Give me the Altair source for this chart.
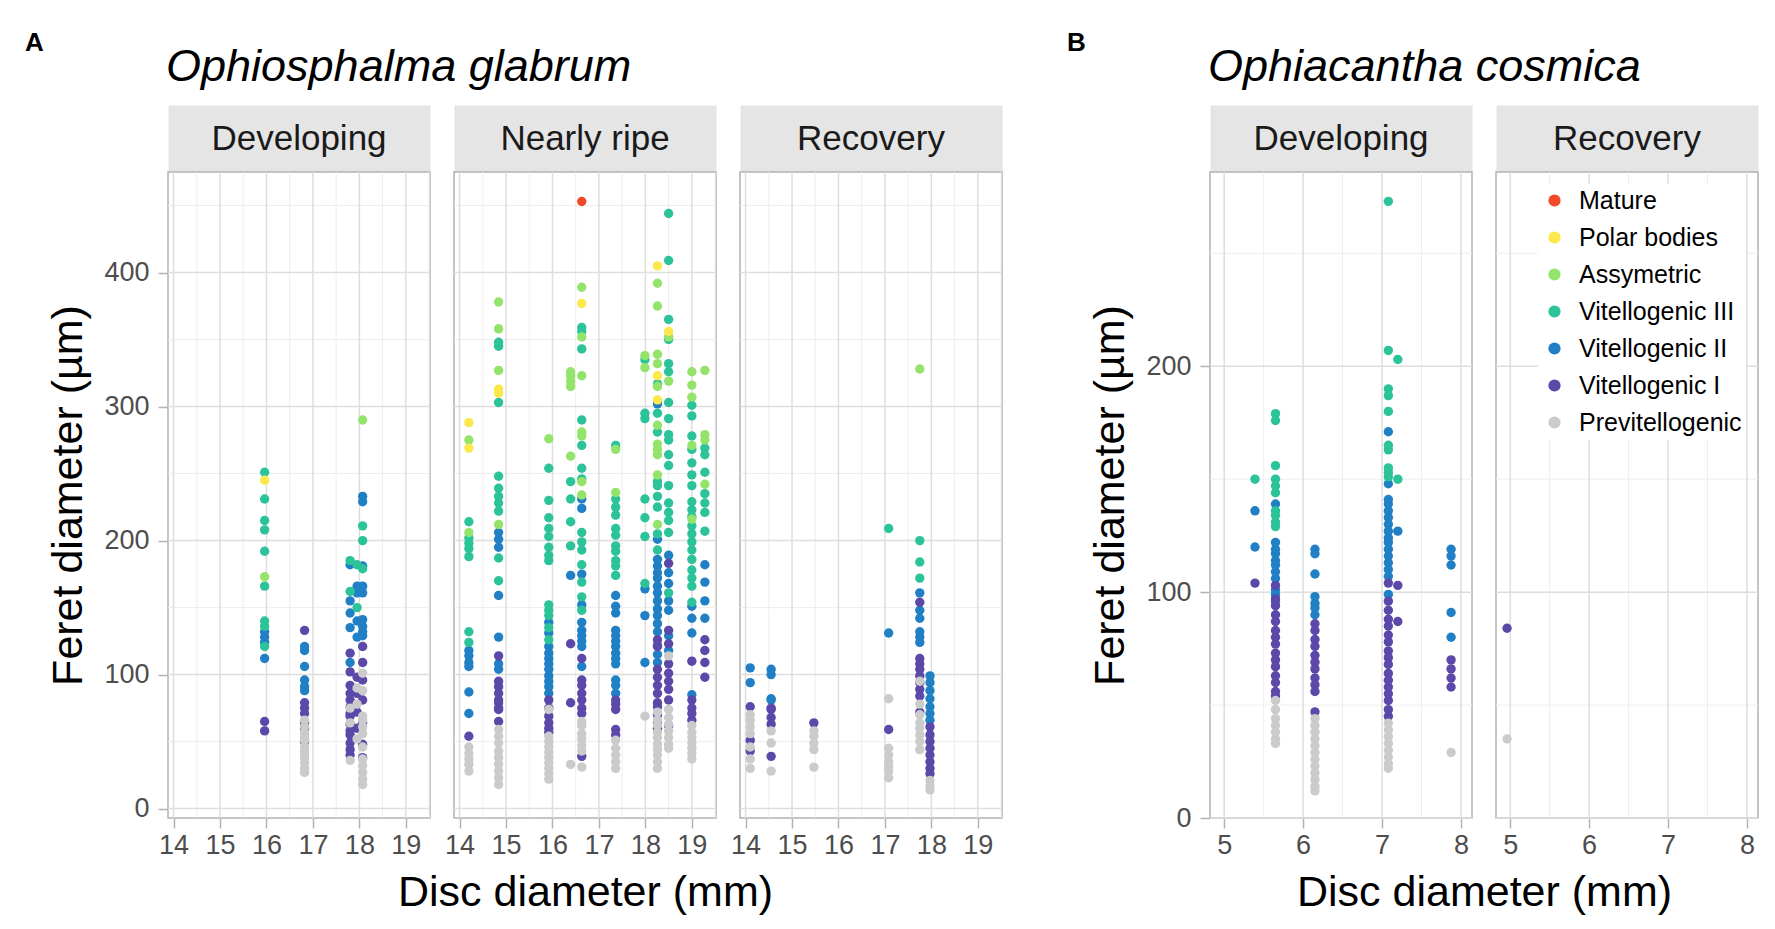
import altair as alt
import pandas as pd

FONT = "Liberation Sans"
TICK_FONT = "Liberation Sans"

STAGES = ["Mature", "Polar bodies", "Assymetric", "Vitellogenic III",
          "Vitellogenic II", "Vitellogenic I", "Previtellogenic"]
COLORS = ["#F04A2A", "#FCE84A", "#94E36B", "#2CC39A", "#2180C5", "#5C48A8", "#CBCBCB"]
ABBR = {"M": "Mature", "P": "Polar bodies", "A": "Assymetric", "V3": "Vitellogenic III",
        "V2": "Vitellogenic II", "V1": "Vitellogenic I", "PV": "Previtellogenic"}
DRAW_ORDER = ["Vitellogenic II", "Vitellogenic III", "Vitellogenic I", "Assymetric",
              "Polar bodies", "Mature", "Previtellogenic"]

# ---------------- Ophiosphalma glabrum ----------------
og_developing = [
    (15.96, "V3", [251, 231, 215, 208, 192, 166, 140, 136, 121]),
    (15.96, "P", [245]),
    (15.96, "A", [173]),
    (15.96, "V2", [132, 128, 124, 112]),
    (15.96, "V1", [65, 58]),
    (16.82, "V1", [133, 79, 75, 71, 64, 60, 50]),
    (16.82, "V2", [121, 118, 106, 96, 91, 88]),
    (16.82, "PV", [66, 61, 56, 53, 51, 46, 43, 41, 38, 34, 30, 27]),
    (17.80, "V3", [185, 162]),
    (17.80, "V2", [182, 155, 146, 135, 109]),
    (17.80, "V1", [116, 102, 92, 86, 81, 76, 71, 69, 63, 58, 55, 49, 44, 40]),
    (17.80, "PV", [75, 64, 36]),
    (17.95, "V2", [166, 161, 140, 128]),
    (17.95, "V3", [182, 150]),
    (17.95, "V1", [98, 86, 72, 60]),
    (17.95, "PV", [90, 78, 52]),
    (18.07, "A", [290]),
    (18.07, "V2", [233, 229, 181, 166, 161, 141, 136, 132, 129]),
    (18.07, "V3", [211, 200, 179]),
    (18.07, "V1", [121, 109, 96, 81, 64, 48, 38]),
    (18.07, "PV", [101, 88, 69, 66, 61, 56, 46, 37, 32, 27, 22, 18]),
]

og_nearly_ripe = [
    (14.20, "P", [288, 269]),
    (14.20, "A", [275, 206]),
    (14.20, "V3", [214, 202, 198, 194, 188, 132, 124]),
    (14.20, "V2", [118, 114, 109, 106, 87, 71]),
    (14.20, "V1", [54]),
    (14.20, "PV", [46, 41, 37, 33, 28]),
    (14.84, "A", [378, 358, 327, 212]),
    (14.84, "V3", [348, 345, 303, 248, 239, 233, 228, 222, 187, 170]),
    (14.84, "P", [313, 310]),
    (14.84, "V2", [206, 201, 195, 159, 128, 108, 104]),
    (14.84, "V1", [114, 95, 91, 86, 81, 79, 75, 74, 65]),
    (14.84, "PV", [59, 54, 49, 43, 38, 33, 28, 23, 18]),
    (15.92, "A", [276]),
    (15.92, "V3", [254, 230, 217, 209, 203, 195, 189, 185, 152, 148, 144, 135, 126]),
    (15.92, "V2", [139, 131, 121, 116, 112, 108, 104, 99, 95, 91, 86]),
    (15.92, "V1", [81, 75, 69, 64, 60, 57]),
    (15.92, "PV", [74, 54, 50, 46, 42, 38, 34, 30, 26, 22]),
    (16.39, "A", [326, 323, 319, 315, 263]),
    (16.39, "V3", [244, 231, 214, 196]),
    (16.39, "V2", [174]),
    (16.39, "V1", [123, 79]),
    (16.39, "PV", [33]),
    (16.63, "M", [453]),
    (16.63, "A", [389, 352, 323, 281, 278, 244, 234]),
    (16.63, "P", [377]),
    (16.63, "V3", [359, 356, 343, 290, 271, 254, 246, 206, 199, 193, 182, 169, 158, 148]),
    (16.63, "V2", [231, 224, 175, 152, 139, 133, 129, 125, 121, 106]),
    (16.63, "V1", [112, 96, 92, 86, 81, 75, 71, 39]),
    (16.63, "PV", [65, 62, 56, 52, 47, 43, 31]),
    (17.36, "V3", [271, 231, 225, 219, 209, 204, 196, 192, 185, 181, 174]),
    (17.36, "A", [268, 236]),
    (17.36, "V2", [159, 151, 146, 133, 129, 125, 121, 116, 112, 108, 96, 92, 86]),
    (17.36, "V1", [81, 78, 74, 59, 55]),
    (17.36, "PV", [51, 45, 40, 35, 30]),
    (17.99, "A", [338, 329]),
    (17.99, "V3", [335, 295, 291, 231, 217, 203, 168]),
    (17.99, "V2", [164, 144, 109]),
    (17.99, "PV", [69]),
    (18.26, "P", [405, 323, 305]),
    (18.26, "A", [392, 375, 339, 332, 315, 286, 272, 268, 264, 249, 212]),
    (18.26, "V3", [317, 295, 281, 244, 241, 233, 225, 205, 193]),
    (18.26, "V2", [302, 201, 186, 181, 176, 172, 166, 161, 155, 149, 144, 138, 132, 122, 115, 109]),
    (18.26, "V1", [126, 121, 104, 98, 92, 86, 79, 76, 70, 64, 60]),
    (18.26, "PV", [72, 66, 62, 57, 53, 48, 44, 40, 35, 30]),
    (18.50, "V3", [444, 409, 365, 350, 332, 326, 303, 291, 279, 275, 264, 256, 241, 228, 221, 215, 206, 161]),
    (18.50, "P", [356]),
    (18.50, "A", [352, 319]),
    (18.50, "V2", [189, 176, 168, 155, 148, 129, 118]),
    (18.50, "V1", [183, 133, 123, 108, 101, 95, 89, 81, 62]),
    (18.50, "PV", [114, 74, 68, 63, 58, 53, 48, 45]),
    (19.00, "A", [326, 316, 307, 271, 216]),
    (19.00, "V3", [301, 293, 278, 268, 258, 249, 241, 229, 223, 218, 211, 205, 199, 193, 186, 178, 172, 166, 154]),
    (19.00, "V2", [151, 142, 131, 85]),
    (19.00, "V1", [110, 81, 75, 71, 66]),
    (19.00, "PV", [62, 57, 53, 49, 45, 41, 37]),
    (19.28, "A", [327, 279, 275, 242]),
    (19.28, "V3", [269, 264, 251, 235, 228, 221, 207]),
    (19.28, "V2", [182, 169, 155, 142]),
    (19.28, "V1", [126, 118, 109, 98]),
]

og_recovery = [
    (14.10, "V2", [105, 94]),
    (14.10, "V1", [76, 51, 43]),
    (14.10, "PV", [70, 66, 61, 56, 46, 37, 30]),
    (14.55, "V2", [104, 100, 82, 81]),
    (14.55, "V1", [75, 74, 68, 63, 39]),
    (14.55, "PV", [58, 49, 28]),
    (15.47, "V1", [64]),
    (15.47, "PV", [58, 54, 49, 44, 31]),
    (17.08, "V3", [209]),
    (17.08, "V2", [131]),
    (17.08, "V1", [59]),
    (17.08, "PV", [82, 45, 40, 35, 31, 28, 23]),
    (17.75, "A", [328]),
    (17.75, "V3", [200, 184, 172]),
    (17.75, "V2", [161, 148, 142, 132, 128, 124]),
    (17.75, "V1", [154, 112, 108, 104, 99, 94, 89, 84, 72]),
    (17.75, "PV", [95, 78, 70, 64, 60, 55, 50, 44]),
    (17.97, "V2", [99, 94, 88, 82, 76, 71, 66]),
    (17.97, "V1", [61, 55, 50, 45, 40, 35, 30, 26]),
    (17.97, "PV", [21, 17, 14]),
]

# ---------------- Ophiacantha cosmica ----------------
oc_developing = [
    (5.39, "V3", [150]),
    (5.39, "V2", [136, 120]),
    (5.39, "V1", [104]),
    (5.65, "V3", [179, 176, 156, 150, 147, 144, 136, 134, 131, 129]),
    (5.65, "V2", [139, 122, 119, 117, 114, 112, 109, 106, 101, 99, 96]),
    (5.65, "V1", [103, 97, 94, 90, 87, 83, 80, 77, 73, 70, 67, 63, 60, 56, 54]),
    (5.65, "PV", [52, 48, 44, 41, 38, 35, 33]),
    (6.15, "V2", [119, 117, 108, 98, 95, 93, 90]),
    (6.15, "V1", [86, 83, 79, 76, 72, 69, 66, 62, 59, 56, 47]),
    (6.15, "PV", [44, 41, 38, 35, 32, 29, 26, 23, 20, 17, 14, 12]),
    (7.08, "V3", [273, 207, 190, 187, 180, 165, 163, 155, 153, 151]),
    (7.08, "V2", [171, 148, 141, 139, 136, 133, 130, 127, 124, 122, 119, 116, 113, 110, 107, 99]),
    (7.08, "V1", [104, 96, 92, 88, 85, 81, 78, 74, 71, 68, 64, 61, 58, 55, 52, 48, 45]),
    (7.08, "PV", [42, 39, 36, 33, 30, 27, 24, 22]),
    (7.20, "V3", [203, 150]),
    (7.20, "V2", [127]),
    (7.20, "V1", [103, 87]),
    (7.875, "V2", [119, 116, 112, 91, 80]),
    (7.875, "V1", [70, 66, 62, 58]),
    (7.875, "PV", [29]),
]

oc_recovery = [
    (4.96, "V1", [84]),
    (4.96, "PV", [35]),
]

# axis breaks
A_X_MAJOR = [14, 15, 16, 17, 18, 19]
A_X_MINOR = [14.5, 15.5, 16.5, 17.5, 18.5, 19.5]
A_Y_MAJOR = [0, 100, 200, 300, 400]
A_Y_MINOR = [50, 150, 250, 350, 450]
A_X_DOMAIN = [13.88, 19.52]
A_Y_DOMAIN = [-7, 475]

B_X_MAJOR = [5, 6, 7, 8]
B_X_MINOR = [5.5, 6.5, 7.5]
B_Y_MAJOR = [0, 100, 200]
B_Y_MINOR = [50, 150, 250]
B_X_DOMAIN = [4.82, 8.14]
B_Y_DOMAIN = [0, 286]

W, H, SH = 262, 646, 67
GAP = 24
GROUP_GAP = 208


def to_df(groups):
    rows = []
    for x, code, ys in groups:
        for y in ys:
            rows.append({"disc": x, "feret": y, "stage": ABBR[code]})
    df = pd.DataFrame(rows)
    df["rank"] = df["stage"].map({s: i for i, s in enumerate(DRAW_ORDER)})
    return df.sort_values("rank", kind="stable").reset_index(drop=True)


def strip(label, extra=None):
    t = alt.Chart(pd.DataFrame({"t": [label]})).mark_text(
        font=FONT, fontSize=35, color="#1a1a1a", align="center", baseline="middle"
    ).encode(x=alt.value(W / 2), y=alt.value(SH / 2), text="t:N")
    layers = [t]
    if extra is not None:
        letter, title = extra
        layers.append(alt.Chart(pd.DataFrame({"t": [letter]})).mark_text(
            font=FONT, fontSize=26, fontWeight="bold", color="black", align="left",
            baseline="alphabetic").encode(x=alt.value(-143), y=alt.value(-54), text="t:N"))
        layers.append(alt.Chart(pd.DataFrame({"t": [title]})).mark_text(
            font=FONT, fontSize=45, fontStyle="italic", color="black", align="left",
            baseline="alphabetic").encode(x=alt.value(-2), y=alt.value(-24), text="t:N"))
    return alt.layer(*layers).properties(
        width=W, height=SH, view=alt.ViewBackground(fill="#e5e5e5", strokeOpacity=0))


def spacer(h):
    return alt.Chart(pd.DataFrame({"t": [""]})).mark_text().encode(
        x=alt.value(0), y=alt.value(0), text="t:N").properties(
        width=GROUP_GAP - 2 * GAP, height=h, view=alt.ViewBackground(strokeOpacity=0))


def panel(groups, xdom, xmaj, xmin, ydom, ymaj, ymin, show_y, xtitle, xtitle_x=None, legend=False):
    df = to_df(groups)
    xs = alt.Scale(domain=xdom, nice=False, zero=False)
    ys = alt.Scale(domain=ydom, nice=False, zero=False)

    xaxis_kw = dict(values=xmaj, title=xtitle, labelPadding=4, titlePadding=13,
                    labelFlush=False, labelOverlap=False)
    if xtitle_x is not None:
        xaxis_kw["titleX"] = xtitle_x
    xaxis = alt.Axis(**xaxis_kw)
    if show_y:
        yaxis = alt.Axis(values=ymaj, title="Feret diameter (µm)", labelPadding=9,
                         titlePadding=13, labelFlush=False, labelOverlap=False)
    else:
        yaxis = None

    def vrules(vals, color, w):
        return alt.Chart(pd.DataFrame({"disc": vals})).mark_rule(color=color, strokeWidth=w).encode(
            x=alt.X("disc:Q", scale=xs, axis=xaxis))

    def hrules(vals, color, w):
        return alt.Chart(pd.DataFrame({"feret": vals})).mark_rule(color=color, strokeWidth=w).encode(
            y=alt.Y("feret:Q", scale=ys, axis=yaxis))

    if legend:
        leg = alt.Legend(orient="top-right", title=None, symbolType="circle", symbolSize=150,
                         symbolStrokeWidth=0, symbolOpacity=1, labelFont=FONT, labelFontSize=25,
                         labelColor="black", labelLimit=400, rowPadding=11, labelOffset=12,
                         fillColor="white", padding=4, offset=12)
    else:
        leg = None
    color = alt.Color("stage:N", scale=alt.Scale(domain=STAGES, range=COLORS), legend=leg)

    pts = alt.Chart(df).mark_circle(size=88, opacity=1, clip=True).encode(
        x=alt.X("disc:Q", scale=xs, axis=xaxis),
        y=alt.Y("feret:Q", scale=ys, axis=yaxis),
        color=color)

    return alt.layer(
        vrules(xmin, "#eeeeee", 1), hrules(ymin, "#eeeeee", 1),
        vrules(xmaj, "#dedede", 1.5), hrules(ymaj, "#dedede", 1.5),
        pts,
    ).properties(width=W, height=H,
                 view=alt.ViewBackground(fill="white", stroke="#b3b3b3", strokeWidth=1.5))


cells = [
    strip("Developing", ("A", "Ophiosphalma glabrum")),
    strip("Nearly ripe"),
    strip("Recovery"),
    spacer(SH),
    strip("Developing", ("B", "Ophiacantha cosmica")),
    strip("Recovery"),
    panel(og_developing, A_X_DOMAIN, A_X_MAJOR, A_X_MINOR, A_Y_DOMAIN, A_Y_MAJOR, A_Y_MINOR, True, ""),
    panel(og_nearly_ripe, A_X_DOMAIN, A_X_MAJOR, A_X_MINOR, A_Y_DOMAIN, A_Y_MAJOR, A_Y_MINOR, False,
          "Disc diameter (mm)"),
    panel(og_recovery, A_X_DOMAIN, A_X_MAJOR, A_X_MINOR, A_Y_DOMAIN, A_Y_MAJOR, A_Y_MINOR, False, ""),
    spacer(H),
    panel(oc_developing, B_X_DOMAIN, B_X_MAJOR, B_X_MINOR, B_Y_DOMAIN, B_Y_MAJOR, B_Y_MINOR, True,
          "Disc diameter (mm)", xtitle_x=W + GAP / 2),
    panel(oc_recovery, B_X_DOMAIN, B_X_MAJOR, B_X_MINOR, B_Y_DOMAIN, B_Y_MAJOR, B_Y_MINOR, False, "",
          legend=True),
]

chart = alt.concat(*cells, columns=6, spacing={"row": 0, "column": GAP}, bounds="flush").resolve_scale(
    color="independent").resolve_legend(color="independent").properties(
    padding={"left": 17, "top": 22, "right": 4, "bottom": 4},
    background="white",
).configure_axis(
    labelFont=TICK_FONT, labelFontSize=27, labelColor="#4d4d4d", tickColor="#b3b3b3",
    tickWidth=1.5, tickSize=10, domain=False, grid=False, titleFont=FONT,
    titleFontSize=43, titleFontWeight="normal", titleColor="black",
).configure_text(font=FONT)

chart.save("out.html", embed_options={"renderer": "svg", "actions": False})
